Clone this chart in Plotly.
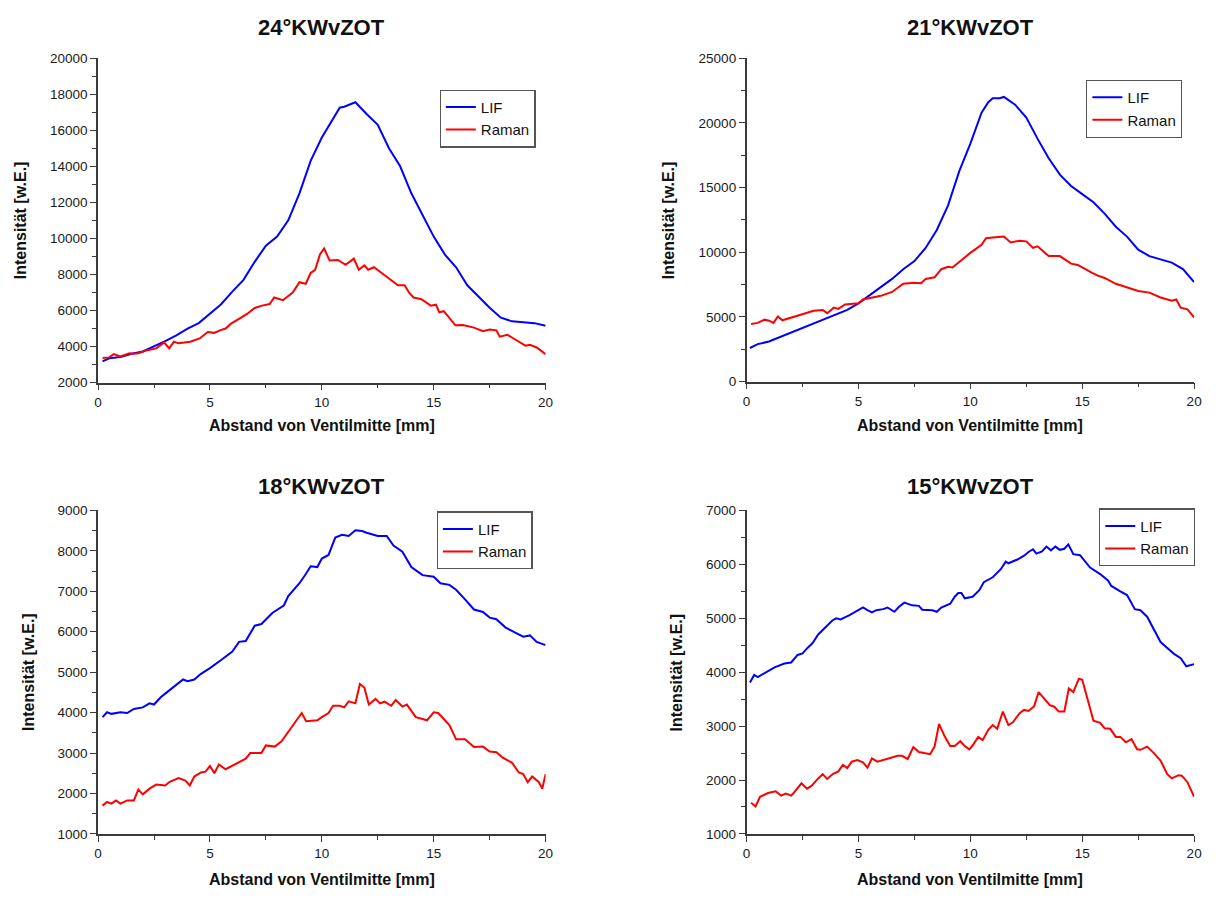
import plotly.graph_objects as go

W, H = 1216, 898

# ---------------- data ----------------
# 24°KWvZOT
lif24_x = [0.2, 0.5, 1, 1.5, 2, 2.5, 3, 3.5, 4, 4.5, 5, 5.5, 6, 6.5, 7, 7.5, 8, 8.5, 9, 9.5,
           10, 10.5, 10.8, 11, 11.5, 12, 12.5, 13, 13.5, 14, 14.5, 15, 15.5, 16, 16.5, 17,
           17.5, 18, 18.5, 19, 19.5, 20]
lif24_y = [3180, 3350, 3420, 3600, 3730, 4000, 4300, 4620, 5000, 5300, 5850, 6350, 7050, 7700,
           8700, 9600, 10100, 11000, 12500, 14300, 15600, 16600, 17250, 17300, 17550, 16900,
           16300, 15000, 14000, 12500, 11300, 10100, 9100, 8400, 7400, 6750, 6150, 5600, 5400,
           5350, 5300, 5150]
raman24_x = [0.2, 0.5, 0.7, 1.0, 1.4, 1.6, 1.8, 2.2, 2.6, 2.95, 3.18, 3.39, 3.6, 4.12, 4.54,
             4.9, 5.2, 5.44, 5.7, 5.94, 6.3, 6.66, 7.0, 7.33, 7.67, 7.87, 8.26, 8.7, 9.0, 9.28,
             9.5, 9.7, 9.92, 10.1, 10.35, 10.72, 11.06, 11.43, 11.65, 11.9, 12.07, 12.33, 12.6,
             13.0, 13.4, 13.7, 13.9, 14.1, 14.45, 14.87, 15.1, 15.25, 15.45, 15.97, 16.3, 16.8,
             17.2, 17.5, 17.8, 17.95, 18.3, 18.7, 19.1, 19.3, 19.6, 20.0]
raman24_y = [3360, 3400, 3580, 3450, 3630, 3600, 3630, 3800, 3900, 4230, 3900, 4270, 4180, 4270,
             4450, 4810, 4760, 4900, 5000, 5270, 5540, 5810, 6140, 6270, 6360, 6720, 6570, 6990,
             7570, 7480, 8080, 8260, 9130, 9440, 8770, 8800, 8530, 8880, 8260, 8500, 8260, 8400,
             8150, 7750, 7400, 7400, 6990, 6720, 6630, 6270, 6320, 5900, 5960, 5180, 5200, 5050,
             4850, 4950, 4900, 4550, 4650, 4350, 4050, 4100, 3950, 3580]

# 21°KWvZOT
lif21_x = [0.15, 0.5, 1, 1.5, 2, 2.5, 3, 3.5, 4, 4.5, 5, 5.5, 6, 6.5, 7, 7.5, 8, 8.5, 9, 9.5,
           10, 10.5, 10.8, 11, 11.3, 11.5, 12, 12.5, 13, 13.5, 14, 14.5, 15, 15.5, 16, 16.5,
           17, 17.5, 18, 18.5, 19, 19.5, 20]
lif21_y = [2600, 2900, 3100, 3450, 3780, 4110, 4460, 4790, 5170, 5540, 6050, 6680, 7300, 7940,
           8690, 9320, 10330, 11720, 13600, 16250, 18400, 20790, 21600, 21900, 21900, 22000,
           21400, 20400, 18780, 17260, 16000, 15120, 14490, 13860, 12980, 11970, 11210, 10200,
           9700, 9450, 9200, 8700, 7690]
raman21_x = [0.2, 0.5, 0.8, 1.0, 1.2, 1.4, 1.6, 2.0, 2.4, 2.6, 3.0, 3.4, 3.6, 3.9, 4.1, 4.4,
             5.0, 5.2, 6.0, 6.5, 7.0, 7.5, 7.8, 8.0, 8.4, 8.7, 9.0, 9.2, 9.5, 10, 10.5, 10.7,
             11.0, 11.5, 11.8, 12.2, 12.5, 12.8, 13.0, 13.5, 14.0, 14.5, 14.8, 15.0, 15.4, 15.7,
             16.0, 16.5, 17.0, 17.5, 18.0, 18.5, 19.0, 19.2, 19.4, 19.7, 20.0]
raman21_y = [4460, 4540, 4790, 4710, 4540, 5040, 4740, 4960, 5170, 5240, 5470, 5540, 5290, 5720,
             5620, 5970, 6050, 6350, 6630, 6930, 7560, 7640, 7610, 7940, 8060, 8690, 8870, 8820,
             9250, 9950, 10580, 11090, 11140, 11220, 10760, 10890, 10840, 10330, 10460, 9700,
             9700, 9120, 9020, 8820, 8440, 8190, 8010, 7560, 7260, 7010, 6880, 6500, 6250, 6350,
             5720, 5590, 4960]

# 18°KWvZOT
lif18_x = [0.2, 0.4, 0.6, 1.0, 1.3, 1.6, 2.0, 2.3, 2.5, 2.8, 3.0, 3.5, 3.8, 4.0, 4.3, 4.6, 5.0,
           5.5, 6.0, 6.3, 6.6, 7.0, 7.3, 7.8, 8.0, 8.3, 8.5, 9.0, 9.3, 9.5, 9.8, 10.0, 10.3,
           10.6, 10.9, 11.2, 11.5, 11.8, 12.0, 12.5, 12.9, 13.2, 13.6, 14.0, 14.3, 14.5, 15.0,
           15.3, 15.7, 16.0, 16.4, 16.8, 17.2, 17.5, 17.8, 18.2, 18.6, 19.0, 19.3, 19.6, 20.0]
lif18_y = [3890, 4010, 3970, 4010, 3990, 4090, 4130, 4230, 4200, 4380, 4470, 4700, 4820, 4780,
           4820, 4960, 5100, 5300, 5510, 5750, 5770, 6150, 6190, 6470, 6550, 6650, 6880, 7200,
           7440, 7620, 7600, 7810, 7900, 8330, 8400, 8370, 8510, 8490, 8450, 8370, 8370, 8130,
           7980, 7600, 7480, 7400, 7360, 7200, 7160, 7040, 6800, 6550, 6490, 6350, 6310, 6110,
           5990, 5880, 5910, 5750, 5670]
raman18_x = [0.2, 0.4, 0.6, 0.8, 1.0, 1.3, 1.6, 1.8, 2.0, 2.3, 2.6, 3.0, 3.2, 3.6, 3.9, 4.1,
             4.3, 4.6, 4.8, 5.0, 5.2, 5.4, 5.7, 6.0, 6.3, 6.6, 6.8, 7.3, 7.5, 7.9, 8.2, 8.5,
             8.8, 9.1, 9.3, 9.8, 10.0, 10.3, 10.5, 10.8, 11.0, 11.2, 11.5, 11.7, 11.9, 12.1,
             12.4, 12.6, 12.8, 13.1, 13.3, 13.6, 13.8, 14.2, 14.7, 15.0, 15.2, 15.7, 16.0, 16.4,
             16.8, 17.2, 17.5, 17.8, 18.1, 18.5, 18.8, 19.0, 19.2, 19.4, 19.7, 19.85, 20.0]
raman18_y = [1700, 1790, 1750, 1830, 1750, 1830, 1830, 2100, 1980, 2120, 2220, 2200, 2290, 2380,
             2320, 2200, 2420, 2520, 2540, 2680, 2500, 2720, 2600, 2680, 2780, 2860, 3000, 3000,
             3190, 3160, 3290, 3530, 3770, 3990, 3790, 3810, 3890, 3990, 4170, 4170, 4130, 4280,
             4230, 4710, 4620, 4200, 4340, 4230, 4270, 4170, 4310, 4150, 4200, 3890, 3810, 4010,
             3990, 3690, 3340, 3340, 3150, 3160, 3040, 3020, 2880, 2760, 2520, 2480, 2280, 2420,
             2280, 2120, 2480]

# 15°KWvZOT
lif15_x = [0.15, 0.34, 0.5, 0.96, 1.25, 1.69, 1.99, 2.28, 2.5, 2.72, 2.95, 3.2, 3.53, 3.83, 4.0,
           4.2, 4.6, 4.9, 5.2, 5.4, 5.6, 5.8, 6.1, 6.3, 6.6, 6.8, 7.05, 7.4, 7.7, 7.85, 8.3,
           8.5, 8.7, 9.1, 9.3, 9.46, 9.6, 9.75, 10.1, 10.4, 10.6, 11.0, 11.36, 11.58, 11.7,
           12.1, 12.4, 12.6, 12.8, 12.95, 13.2, 13.4, 13.6, 13.8, 14.0, 14.2, 14.38, 14.6,
           14.9, 15.35, 15.8, 16.15, 16.3, 16.7, 17.0, 17.35, 17.6, 17.9, 18.2, 18.5, 18.8,
           19.1, 19.4, 19.65, 20.0]
lif15_y = [3810, 3950, 3910, 4030, 4090, 4160, 4180, 4320, 4350, 4450, 4540, 4700, 4830, 4960,
           5000, 4980, 5060, 5130, 5200, 5150, 5110, 5150, 5170, 5200, 5120, 5210, 5290, 5240,
           5230, 5160, 5150, 5120, 5200, 5270, 5400, 5470, 5470, 5370, 5400, 5520, 5670, 5760,
           5910, 6050, 6020, 6090, 6160, 6230, 6280, 6200, 6240, 6330, 6260, 6330, 6270, 6290,
           6370, 6190, 6170, 5940, 5820, 5700, 5600, 5500, 5430, 5170, 5150, 5030, 4790, 4560,
           4450, 4340, 4260, 4110, 4150]
raman15_x = [0.2, 0.4, 0.6, 0.96, 1.3, 1.55, 1.75, 2.0, 2.2, 2.45, 2.7, 2.9, 3.2, 3.4, 3.6,
             3.85, 4.1, 4.3, 4.5, 4.7, 4.95, 5.2, 5.4, 5.6, 5.85, 6.3, 6.75, 6.95, 7.2, 7.45,
             7.7, 8.2, 8.4, 8.6, 8.85, 9.1, 9.3, 9.55, 9.75, 9.95, 10.1, 10.35, 10.55, 10.8,
             11.0, 11.2, 11.45, 11.7, 11.9, 12.2, 12.4, 12.6, 12.85, 13.05, 13.3, 13.55, 13.75,
             13.95, 14.2, 14.4, 14.6, 14.85, 15.0, 15.3, 15.5, 15.8, 16.0, 16.25, 16.5, 16.7,
             16.95, 17.2, 17.45, 17.6, 17.9, 18.2, 18.5, 18.8, 19.0, 19.3, 19.45, 19.7, 19.9,
             20.0]
raman15_y = [1580, 1510, 1690, 1760, 1790, 1710, 1750, 1710, 1810, 1940, 1840, 1890, 2030, 2110,
             2020, 2110, 2160, 2280, 2220, 2340, 2370, 2330, 2230, 2400, 2340, 2400, 2450, 2450,
             2390, 2610, 2520, 2480, 2620, 3040, 2810, 2630, 2630, 2720, 2630, 2570, 2640, 2800,
             2740, 2930, 3020, 2950, 3270, 3020, 3070, 3240, 3300, 3280, 3370, 3630, 3510, 3390,
             3360, 3270, 3270, 3700, 3630, 3880, 3860, 3390, 3100, 3060, 2960, 2950, 2800, 2800,
             2700, 2760, 2570, 2560, 2620, 2500, 2360, 2110, 2030, 2090, 2080, 1960, 1780, 1690]

titles = ["24°KWvZOT", "21°KWvZOT", "18°KWvZOT", "15°KWvZOT"]
series_names = ["LIF", "Raman"]
x_title = "Abstand von Ventilmitte [mm]"
y_title = "Intensität [w.E.]"

panels = [
    (lif24_x, lif24_y, raman24_x, raman24_y),
    (lif21_x, lif21_y, raman21_x, raman21_y),
    (lif18_x, lif18_y, raman18_x, raman18_y),
    (lif15_x, lif15_y, raman15_x, raman15_y),
]

# ---------------- layout geometry (pixels) ----------------
y_ranges = [(2000, 20000), (0, 25000), (1000, 9000), (1000, 7000)]
y_dticks = [2000, 5000, 1000, 1000]
y_minor = [1000, 2500, 500, 500]
plot_boxes = [  # left, right, top, bottom
    (95, 547, 52, 382),
    (750, 1202, 52, 381),
    (95, 547, 512, 841),
    (750, 1202, 512, 841),
]
legend_pos = [(440, 84), (1093, 74), (437, 513), (1106, 510)]
title_y = [21, 21, 488, 488]
xtitle_y = [426, 426, 887, 887]
ytitle_x = [17, 672, 24, 679]

BLUE = "#0000FF"
RED = "#FF0000"
FONT = "Arial, 'Liberation Sans', sans-serif"
AXIS_COLOR = "#3a3a3a"


def px_x(p):
    return p / W


def px_y(p):
    return 1 - p / H


fig = go.Figure()
annotations = []
layout = {}

for i, (lx, ly, rx, ry) in enumerate(panels):
    n = i + 1
    sfx = "" if n == 1 else str(n)
    legend_id = "legend" if n == 1 else f"legend{n}"
    fig.add_trace(go.Scatter(x=lx, y=ly, mode="lines", name=series_names[0],
                             line=dict(color=BLUE, width=2),
                             xaxis=f"x{sfx}", yaxis=f"y{sfx}", legend=legend_id))
    fig.add_trace(go.Scatter(x=rx, y=ry, mode="lines", name=series_names[1],
                             line=dict(color=RED, width=2),
                             xaxis=f"x{sfx}", yaxis=f"y{sfx}", legend=legend_id))

    l, r, t, b = plot_boxes[i]
    tickfont = dict(family=FONT, size=13.5, color="#1a1a1a")
    layout[f"xaxis{sfx}"] = dict(
        domain=[px_x(l), px_x(r)], anchor=f"y{sfx}", range=[0, 20],
        dtick=5, tick0=0, tickformat="d", ticks="outside", ticklen=6, tickwidth=1.2,
        tickcolor=AXIS_COLOR,
        minor=dict(dtick=2.5, ticks="outside", ticklen=4, tickwidth=1.2, tickcolor=AXIS_COLOR),
        showline=True, linecolor=AXIS_COLOR, linewidth=1.5, showgrid=False, zeroline=False,
        tickfont=tickfont,
    )
    layout[f"yaxis{sfx}"] = dict(
        domain=[px_y(b), px_y(t)], anchor=f"x{sfx}", range=list(y_ranges[i]),
        dtick=y_dticks[i], tick0=0, tickformat="d", ticks="outside", ticklen=6,
        tickwidth=1.2, tickcolor=AXIS_COLOR,
        minor=dict(dtick=y_minor[i], ticks="outside", ticklen=4, tickwidth=1.2,
                   tickcolor=AXIS_COLOR),
        showline=True, linecolor=AXIS_COLOR, linewidth=1.5, showgrid=False, zeroline=False,
        tickfont=tickfont,
    )
    lgx, lgy = legend_pos[i]
    layout[legend_id] = dict(
        x=px_x(lgx), y=px_y(lgy), xanchor="left", yanchor="top",
        bgcolor="white", bordercolor="#555555", borderwidth=1.2,
        font=dict(family=FONT, size=15, color="#111"),
        tracegroupgap=0, itemwidth=30,
    )

    cx = (l + r) / 2
    annotations.append(dict(text=f"<b>{titles[i]}</b>", x=px_x(cx), y=px_y(title_y[i]),
                            xref="paper", yref="paper", xanchor="center", yanchor="middle",
                            showarrow=False, font=dict(family=FONT, size=22, color="#111")))
    annotations.append(dict(text=f"<b>{x_title}</b>", x=px_x(cx), y=px_y(xtitle_y[i]),
                            xref="paper", yref="paper", xanchor="center", yanchor="middle",
                            showarrow=False, font=dict(family=FONT, size=16, color="#111")))
    annotations.append(dict(text=f"<b>{y_title}</b>", x=px_x(ytitle_x[i]),
                            y=px_y((t + b) / 2), xref="paper", yref="paper",
                            xanchor="center", yanchor="middle", textangle=-90,
                            showarrow=False, font=dict(family=FONT, size=16, color="#111")))

fig.update_layout(
    width=W, height=H, margin=dict(l=0, r=0, t=0, b=0),
    paper_bgcolor="white", plot_bgcolor="white",
    annotations=annotations, showlegend=True,
    **layout,
)

fig.write_html("out.html")
